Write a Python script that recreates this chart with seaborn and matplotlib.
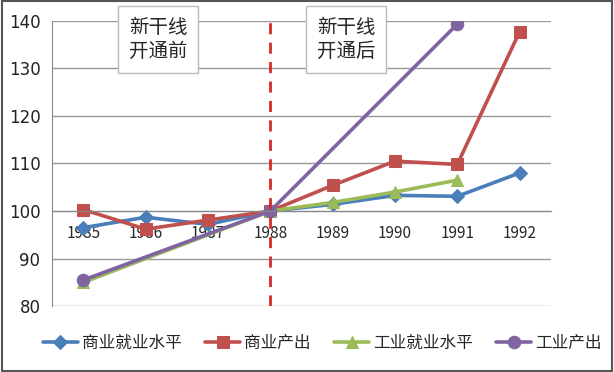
import numpy as np
import pandas as pd
import matplotlib.pyplot as plt
plt.switch_backend('Agg')
import seaborn as sns
from matplotlib.patches import Rectangle

sns.set_style("white")
plt.rcParams['font.family'] = ['Noto Sans CJK SC', 'DejaVu Sans']

# data (index, 1988 = 100)
years = [1985, 1986, 1987, 1988, 1989, 1990, 1991, 1992]
shangye_jiuye = [96.5, 98.7, 97.2, 100, 101.4, 103.3, 103.1, 108.0]
shangye_chanchu = [100.3, 96.2, 98.1, 100, 105.4, 110.5, 109.8, 137.7]
gongye_jiuye = [85.0, np.nan, np.nan, 100, 101.8, 104.0, 106.5, np.nan]
gongye_chanchu = [85.5, np.nan, np.nan, 100, np.nan, np.nan, 139.3, np.nan]

series = ["商业就业水平", "商业产出", "工业就业水平", "工业产出"]
values = [shangye_jiuye, shangye_chanchu, gongye_jiuye, gongye_chanchu]
colors = ["#4a7ebb", "#c0504d", "#9bbb59", "#8064a2"]
markers = ["D", "s", "^", "o"]
msizes = [7, 9, 8, 9]

fig = plt.figure(figsize=(6.14, 3.72), dpi=100)
ax = fig.add_axes([0.085, 0.177, 0.812, 0.767])

for name, vals, c, m, ms in zip(series, values, colors, markers, msizes):
    df = pd.DataFrame({"year": years, "value": vals}).dropna()
    sns.lineplot(data=df, x="year", y="value", ax=ax, color=c, marker=m,
                 markersize=ms, markeredgecolor=c, linewidth=2.6, label=name)

ax.set_xlim(1984.5, 1992.5)
ax.set_ylim(80, 140)
ax.set_yticks(range(80, 141, 10))
ax.set_xticks(years)
ax.set_xticklabels([str(y) for y in years])
ax.set_xticks(np.arange(1984.5, 1993, 1), minor=True)
ax.tick_params(axis="x", which="major", length=0, labelsize=11, pad=10)
ax.tick_params(axis="x", which="minor", length=5, width=1, color="#888888", direction="out")
ax.tick_params(axis="y", length=5, width=1, color="#888888", direction="out", labelsize=12)
for lab in ax.get_xticklabels() + ax.get_yticklabels():
    lab.set_fontfamily("DejaVu Sans")
    lab.set_color("#222222")
ax.set_xlabel("")
ax.set_ylabel("")
ax.grid(axis="y", color="#999999", linewidth=1)

for s in ["top", "right"]:
    ax.spines[s].set_visible(False)
ax.spines["bottom"].set_position(("data", 100))
ax.spines["bottom"].set_color("#888888")
ax.spines["left"].set_color("#888888")

# 1988 divider
ax.axvline(1988, color="#d42a2a", linestyle=(0, (4, 3)), linewidth=2)

ax.legend_.remove()
handles, labels = ax.get_legend_handles_labels()
fig.legend(handles, labels, loc="center", bbox_to_anchor=(0.525, 0.078), ncol=4,
           frameon=False, fontsize=12, handlelength=2.1, columnspacing=1.4,
           handletextpad=0.25)

box = dict(facecolor="white", edgecolor="#bbbbbb", boxstyle="square,pad=0.55")
fig.text(0.258, 0.894, "新干线\n开通前", ha="center", va="center", fontsize=14,
         linespacing=1.2, bbox=box)
fig.text(0.564, 0.894, "新干线\n开通后", ha="center", va="center", fontsize=14,
         linespacing=1.2, bbox=box)

fig.patches.append(Rectangle((0.003, 0.004), 0.994, 0.992, transform=fig.transFigure,
                             fill=False, edgecolor="#555555", linewidth=1.5))

fig.savefig("out.png", dpi=100)
